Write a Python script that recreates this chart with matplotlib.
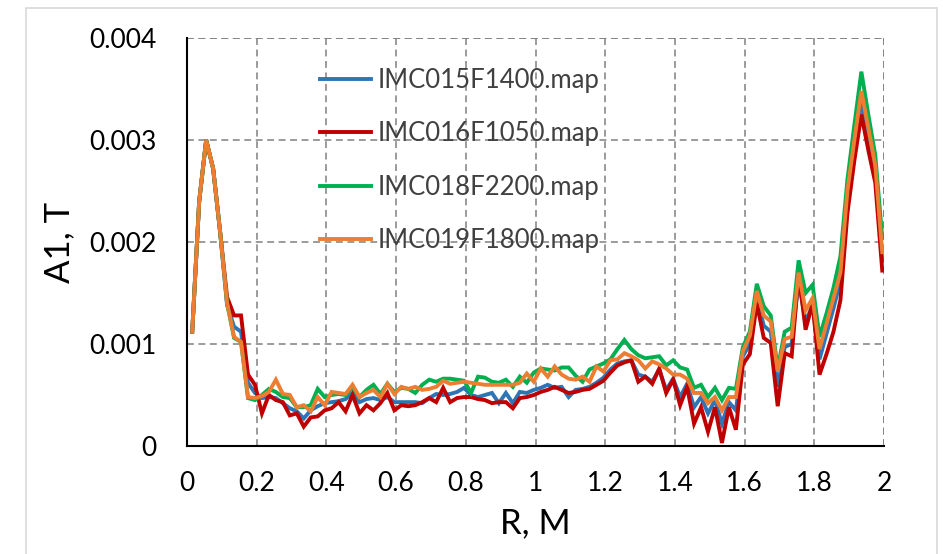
import numpy as np
import matplotlib
matplotlib.use("Agg")
import matplotlib.pyplot as plt
from matplotlib.patches import Rectangle

# radius grid, m
r = np.round(np.arange(0.015, 2.0, 0.02), 3)

# A1 in units of 1e-3 T
imc015 = [1.12, 2.40, 3.00, 2.72, 2.10, 1.38, 1.17, 1.12, 0.62, 0.52,
          0.47, 0.48, 0.47, 0.42, 0.37, 0.34, 0.27, 0.35, 0.39, 0.42,
          0.43, 0.44, 0.46, 0.52, 0.43, 0.46, 0.47, 0.45, 0.48, 0.43,
          0.43, 0.43, 0.43, 0.42, 0.47, 0.51, 0.50, 0.51, 0.53, 0.57,
          0.50, 0.48, 0.50, 0.52, 0.42, 0.52, 0.42, 0.53,
          0.52, 0.55, 0.57, 0.60, 0.57, 0.58, 0.48, 0.55, 0.56, 0.58,
          0.62, 0.67, 0.75, 0.81, 0.83, 0.84, 0.70, 0.68, 0.63, 0.75,
          0.55, 0.66, 0.48, 0.61, 0.38, 0.48, 0.32, 0.45, 0.22, 0.43,
          0.35, 0.88, 1.00, 1.46, 1.18, 1.12, 0.58, 0.97, 1.00, 1.62,
          1.22, 1.38, 0.85, 1.10, 1.35, 1.62, 2.45, 2.95, 3.36, 3.05,
          2.68, 1.82]
imc016 = [1.12, 2.40, 3.00, 2.72, 2.10, 1.46, 1.28, 1.28, 0.70, 0.60,
          0.32, 0.50, 0.45, 0.43, 0.30, 0.32, 0.19, 0.28, 0.29, 0.35,
          0.37, 0.43, 0.34, 0.50, 0.32, 0.40, 0.35, 0.42, 0.52, 0.35,
          0.40, 0.39, 0.40, 0.43, 0.47, 0.43, 0.57, 0.43, 0.47, 0.48,
          0.48, 0.46, 0.45, 0.42, 0.43, 0.43, 0.37, 0.47,
          0.48, 0.50, 0.53, 0.55, 0.58, 0.55, 0.52, 0.53, 0.55, 0.56,
          0.60, 0.64, 0.72, 0.79, 0.82, 0.84, 0.63, 0.68, 0.61, 0.76,
          0.52, 0.65, 0.40, 0.58, 0.22, 0.38, 0.14, 0.38, 0.03, 0.38,
          0.16, 0.80, 0.90, 1.40, 1.06, 1.01, 0.39, 0.91, 0.88, 1.70,
          1.14, 1.40, 0.70, 0.90, 1.12, 1.43, 2.28, 2.80, 3.25, 2.90,
          2.58, 1.72]
imc018 = [1.12, 2.40, 3.00, 2.72, 2.10, 1.40, 1.06, 1.02, 0.47, 0.45,
          0.50, 0.56, 0.53, 0.48, 0.47, 0.38, 0.38, 0.40, 0.56, 0.48,
          0.50, 0.51, 0.50, 0.58, 0.48, 0.55, 0.60, 0.51, 0.61, 0.53,
          0.57, 0.56, 0.52, 0.60, 0.65, 0.63, 0.66, 0.66, 0.65, 0.64,
          0.52, 0.68, 0.67, 0.63, 0.62, 0.65, 0.58, 0.68,
          0.62, 0.72, 0.76, 0.75, 0.74, 0.77, 0.77, 0.69, 0.63, 0.75,
          0.78, 0.81, 0.85, 0.95, 1.04, 0.95, 0.89, 0.86, 0.87, 0.88,
          0.79, 0.84, 0.77, 0.75, 0.57, 0.60, 0.48, 0.57, 0.45, 0.57,
          0.56, 0.97, 1.12, 1.59, 1.37, 1.28, 0.76, 1.12, 1.16, 1.82,
          1.50, 1.58, 1.07, 1.30, 1.55, 1.86, 2.61, 3.15, 3.67, 3.25,
          2.85, 2.04]
imc019 = [1.12, 2.40, 3.00, 2.72, 2.10, 1.40, 1.07, 1.02, 0.48, 0.47,
          0.49, 0.53, 0.65, 0.51, 0.50, 0.38, 0.40, 0.34, 0.48, 0.40,
          0.53, 0.52, 0.51, 0.60, 0.48, 0.52, 0.55, 0.48, 0.61, 0.51,
          0.58, 0.56, 0.58, 0.55, 0.56, 0.58, 0.64, 0.61, 0.62, 0.63,
          0.62, 0.61, 0.60, 0.60, 0.60, 0.60, 0.60, 0.62,
          0.71, 0.63, 0.76, 0.68, 0.78, 0.70, 0.66, 0.65, 0.68, 0.63,
          0.78, 0.73, 0.84, 0.85, 0.91, 0.88, 0.84, 0.76, 0.83, 0.80,
          0.76, 0.70, 0.70, 0.66, 0.52, 0.52, 0.42, 0.48, 0.35, 0.48,
          0.48, 0.93, 1.08, 1.52, 1.28, 1.22, 0.73, 1.05, 1.07, 1.70,
          1.33, 1.45, 0.95, 1.20, 1.45, 1.70, 2.50, 3.00, 3.48, 3.12,
          2.75, 1.90]

names = ["IMC015F1400.map", "IMC016F1050.map", "IMC018F2200.map", "IMC019F1800.map"]
colors = ["#2E75B6", "#C00000", "#00B050", "#ED7D31"]
xticks = [0, 0.2, 0.4, 0.6, 0.8, 1, 1.2, 1.4, 1.6, 1.8, 2]
xlabels = ["0", "0.2", "0.4", "0.6", "0.8", "1", "1.2", "1.4", "1.6", "1.8", "2"]
yticks = [0, 0.001, 0.002, 0.003, 0.004]
ylabels = ["0", "0.001", "0.002", "0.003", "0.004"]

plt.rcParams['font.family'] = ['Lato', 'DejaVu Sans']

dpi = 100
fig = plt.figure(figsize=(943 / dpi, 554 / dpi), dpi=dpi)
ax = fig.add_axes([187 / 943, 1 - 446 / 554, (884 - 187) / 943, (446 - 38) / 554])

# chart border
fig.patches.append(Rectangle((26 / 943, -0.05), (937 - 26) / 943, 1.05 - 8 / 554,
                             transform=fig.transFigure, fill=False,
                             edgecolor="#D9D9D9", lw=1.2))

for ys, name, c in zip([imc015, imc016, imc018, imc019], names, colors):
    ax.plot(r, np.array(ys) * 1e-3, color=c, lw=2.8, label=name,
            solid_joinstyle="miter")

ax.set_xlim(0, 2)
ax.set_ylim(0, 0.004)
ax.set_xticks(xticks)
ax.set_xticklabels(xlabels)
ax.set_yticks(yticks)
ax.set_yticklabels(ylabels)
ax.tick_params(length=0, labelsize=19, pad=22)
ax.tick_params(axis="x", pad=18)

grid_ls = (0, (4.5, 3))
ax.grid(True, color="#808080", lw=1.1, linestyle=grid_ls)
for s in ["top", "right"]:
    ax.spines[s].set_visible(False)
ax.spines["left"].set_linewidth(1.5)
ax.spines["bottom"].set_linewidth(1.5)
ax.set_axisbelow(True)
ax.axhline(0.004, color="#808080", lw=1.1, linestyle=grid_ls, zorder=0)
ax.axvline(2, color="#808080", lw=1.1, linestyle=grid_ls, zorder=0)

ax.set_xlabel("R, M", fontsize=25, labelpad=8)
ax.set_ylabel("A1, T", fontsize=25, labelpad=10)

leg = ax.legend(loc="upper left", bbox_to_anchor=(320 / 943, 1 - 68 / 554),
                bbox_transform=fig.transFigure, frameon=False, fontsize=18.5,
                handlelength=2.0, handletextpad=0.25, labelspacing=1.1,
                borderpad=0, borderaxespad=0)
for t in leg.get_texts():
    t.set_color("#404040")

fig.savefig("out.png", dpi=dpi)
